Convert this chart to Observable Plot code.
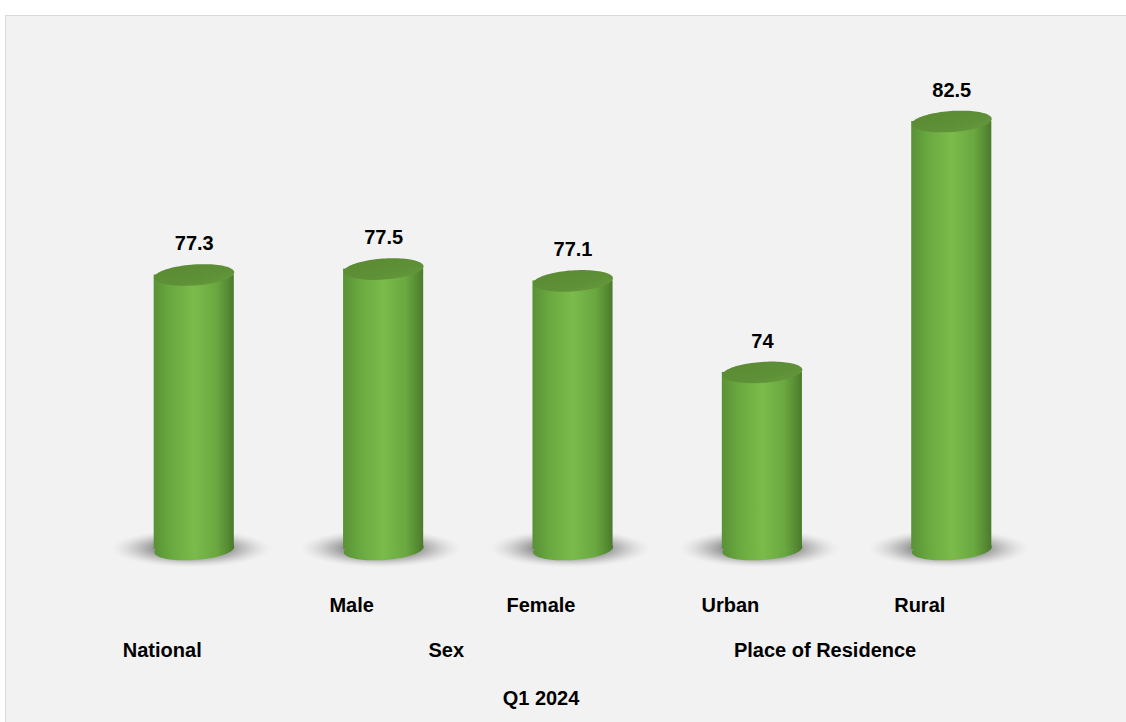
<!DOCTYPE html>
<html>
<head>
<meta charset="utf-8">
<script src="https://cdn.jsdelivr.net/npm/d3@7"></script>
<script src="https://cdn.jsdelivr.net/npm/@observablehq/plot@0.6"></script>
<style>
  html, body { margin: 0; padding: 0; background: #ffffff; width: 1126px; height: 722px; overflow: hidden; }
  #panel { position: absolute; left: 5px; top: 15px; width: 1130px; height: 720px; background: #f2f2f2; border: 1px solid #d9d9d9; box-sizing: border-box; }
  #chart { position: absolute; left: 0; top: 0; }
</style>
</head>
<body>
<div id="panel"></div>
<div id="chart"></div>
<script>
// ---- data ----
const categories = ["National", "Male", "Female", "Urban", "Rural"];
const values = [77.3, 77.5, 77.1, 74, 82.5];
const groupLabels = ["National", "Sex", "Place of Residence"];
const groupMembers = [["National"], ["Male", "Female"], ["Urban", "Rural"]];
const periodLabel = "Q1 2024";
const yBase = 68;
const yTop = 82.5;

const data = categories.map((c, i) => ({cat: c, value: values[i]}));
const leafLabels = groupMembers.filter(m => m.length > 1).flat();

// ---- layout ----
const W = 1126, H = 722;
const mLeft = 59, mRight = 40, mTop = 121, mBottom = 173;
const padIn = 0.577, padOut = 0.5;
const xOpts = {type: "band", domain: categories, range: [mLeft, W - mRight], paddingInner: padIn, paddingOuter: padOut, round: false};
const xs = Plot.scale({x: xOpts});
const step = xs.step ?? (W - mLeft - mRight) / (categories.length - padIn + 2 * padOut);
const bw = xs.bandwidth ?? step * (1 - padIn);
const labelShift = -32;

// ellipse symbols (custom Plot dot symbols)
function ellipse(rx, ry, deg) {
  const a = deg * Math.PI / 180, ca = Math.cos(a), sa = Math.sin(a);
  return {
    draw(ctx) {
      const n = 96;
      for (let i = 0; i <= n; i++) {
        const t = (i / n) * 2 * Math.PI;
        const ex = rx * Math.cos(t), ey = ry * Math.sin(t);
        const px = ex * ca - ey * sa, py = ex * sa + ey * ca;
        if (i === 0) ctx.moveTo(px, py); else ctx.lineTo(px, py);
      }
      ctx.closePath();
    }
  };
}
const capSymbol = ellipse(bw / 2, 10.5, -4);
const shadowSymbol = ellipse(bw * 1.0, 19, 0);

const font = "'Liberation Sans', Arial, sans-serif";
const txt = {fontSize: 20, fontWeight: "bold", fill: "#000", lineAnchor: "middle"};

const marks = [
  Plot.dot(data, {x: "cat", y: () => yBase, dy: -1, dx: -3, r: 1, symbol: shadowSymbol, fill: "url(#shadowGrad)", stroke: "none", ariaLabel: "shadow"}),
  Plot.dot(data, {x: "cat", y: () => yBase, r: 1, symbol: capSymbol, fill: "url(#bodyGrad)", stroke: "none", ariaLabel: "base"}),
  Plot.barY(data, {x: "cat", y1: () => yBase, y2: "value", fill: "url(#bodyGrad)", ariaLabel: "body"}),
  Plot.dot(data, {x: "cat", y: "value", r: 1, symbol: capSymbol, fill: "url(#topGrad)", stroke: "none", ariaLabel: "top"}),
  Plot.text(data, {x: "cat", y: "value", text: d => String(d.value), dy: -31, ...txt}),
  Plot.text(leafLabels, {x: d => d, text: d => d, frameAnchor: "bottom", dx: labelShift, dy: 56, ...txt})
];
groupLabels.forEach((g, i) => {
  const members = groupMembers[i];
  marks.push(Plot.text([g], {x: () => members[0], text: d => d, frameAnchor: "bottom", dx: labelShift + (members.length - 1) * step / 2, dy: 101, ...txt}));
});
marks.push(Plot.text([periodLabel], {x: () => categories[0], text: d => d, frameAnchor: "bottom", dx: labelShift + (categories.length - 1) * step / 2, dy: 149, ...txt}));

const chart = Plot.plot({
  width: W,
  height: H,
  marginLeft: mLeft,
  marginRight: mRight,
  marginTop: mTop,
  marginBottom: mBottom,
  style: `background: transparent; overflow: visible; font-family: ${font};`,
  x: {...xOpts, axis: null},
  y: {domain: [yBase, yTop], axis: null},
  marks
});

const svg = d3.select(chart);
svg.insert("defs", ":first-child").html(`
  <linearGradient id="bodyGrad" x1="0" y1="0" x2="1" y2="0">
    <stop offset="0" stop-color="#5a9137"/>
    <stop offset="0.2" stop-color="#68a83f"/>
    <stop offset="0.5" stop-color="#7bbb4b"/>
    <stop offset="0.78" stop-color="#6aa840"/>
    <stop offset="0.92" stop-color="#578c33"/>
    <stop offset="1" stop-color="#4a7a2b"/>
  </linearGradient>
  <linearGradient id="topGrad" x1="0" y1="0" x2="1" y2="1">
    <stop offset="0" stop-color="#5a8a33"/>
    <stop offset="0.6" stop-color="#5e9037"/>
    <stop offset="1" stop-color="#689c3e"/>
  </linearGradient>
  <radialGradient id="shadowGrad" cx="0.5" cy="0.5" r="0.5">
    <stop offset="0" stop-color="#3a3a3a" stop-opacity="0.9"/>
    <stop offset="0.4" stop-color="#555555" stop-opacity="0.7"/>
    <stop offset="0.7" stop-color="#808080" stop-opacity="0.35"/>
    <stop offset="1" stop-color="#bfbfbf" stop-opacity="0"/>
  </radialGradient>
`);

document.getElementById("chart").appendChild(chart);
</script>
</body>
</html>
